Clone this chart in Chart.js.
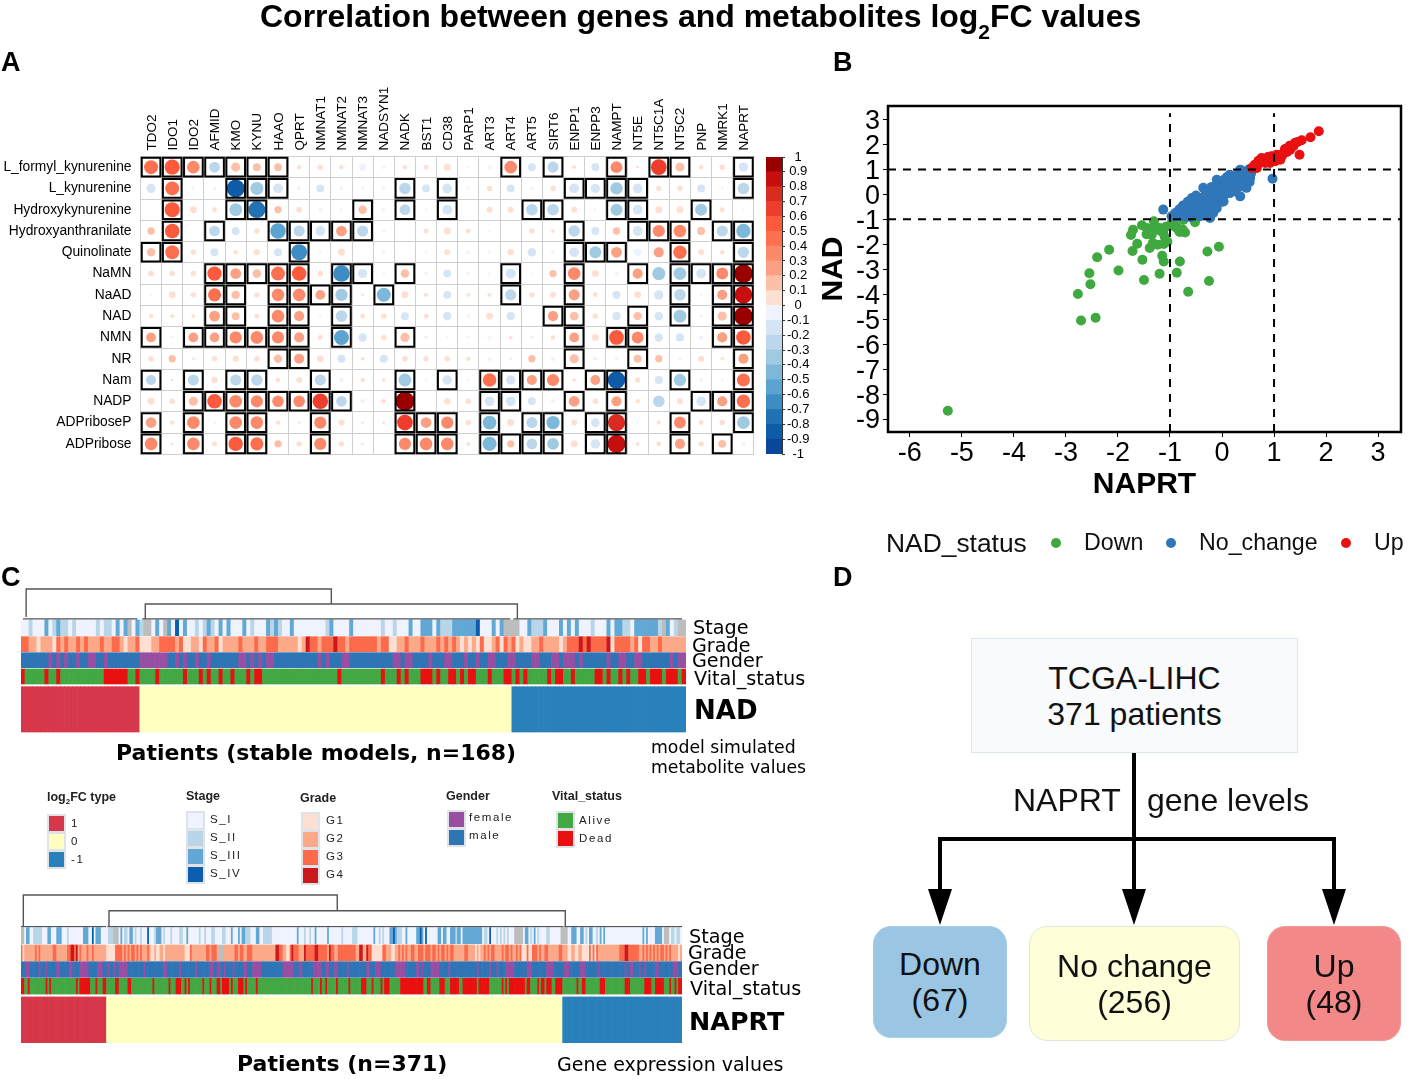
<!DOCTYPE html>
<html><head><meta charset="utf-8">
<script src="https://cdn.jsdelivr.net/npm/chart.js@4"></script>
<style>
html,body{margin:0;padding:0;background:#fff}
#page{position:relative;width:1417px;height:1079px;overflow:hidden;background:#fff;font-family:"Liberation Sans",sans-serif;color:#000}
canvas{position:absolute;display:block}
.t{position:absolute;white-space:nowrap;transform:translateY(-50%);line-height:1}
.dj{font-family:"DejaVu Sans",sans-serif}
.sw{position:absolute;width:17px;height:17px;box-sizing:border-box;border:2px solid #dfe3e8}
.box{position:absolute;box-sizing:border-box;display:flex;align-items:center;justify-content:center;text-align:center;font-family:"Liberation Sans",sans-serif;color:#111}
</style></head><body><div id="page">
<canvas id="cA" width="760" height="380" style="left:0;top:80px"></canvas>
<canvas id="cBar" width="60" height="330" style="left:760px;top:140px"></canvas>
<canvas id="cB" width="600" height="410" style="left:810px;top:95px"></canvas>
<canvas id="cC1" width="665" height="147" style="left:21px;top:586px"></canvas>
<canvas id="cC2" width="661" height="152" style="left:21px;top:892px"></canvas>
<svg width="1417" height="1079" style="position:absolute;left:0;top:0;pointer-events:none">
<g stroke="#000" stroke-width="4" fill="none">
<path d="M1134 753V895"/><path d="M940 895V839H1334V895"/>
</g>
<g fill="#000"><path d="M928 889H952L940 925Z"/><path d="M1122 889H1146L1134 925Z"/><path d="M1322 889H1346L1334 925Z"/></g>
</svg>
<div id="txt"></div>
</div>
<script>
// ---------- Panel A: correlation matrix ----------
const genes = ["TDO2","IDO1","IDO2","AFMID","KMO","KYNU","HAAO","QPRT","NMNAT1","NMNAT2","NMNAT3","NADSYN1","NADK","BST1","CD38","PARP1","ART3","ART4","ART5","SIRT6","ENPP1","ENPP3","NAMPT","NT5E","NT5C1A","NT5C2","PNP","NMRK1","NAPRT"];
const metabolites = ["L_formyl_kynurenine","L_kynurenine","Hydroxykynurenine","Hydroxyanthranilate","Quinolinate","NaMN","NaAD","NAD","NMN","NR","Nam","NADP","ADPriboseP","ADPribose"];
const corrL_formyl = [.47,.57,.37,-.25,.17,.12,.12,.03,.05,.03,-.1,-.02,.03,.04,.09,-.01,-.02,.37,-.12,-.27,.02,-.12,.32,.01,.62,.17,.03,.05,-.18];
const corrL_kyn = [-.17,.47,-.01,-.02,-.85,-.4,-.2,-.02,-.12,-.02,-.01,-.02,-.3,-.12,-.2,-.01,.05,-.12,-.02,.05,-.2,-.18,-.35,-.2,.05,.05,-.12,-.01,-.3];
const corrHydroxyK = [0,.57,.09,.04,-.38,-.75,.1,.06,-.02,-.01,.14,-.02,-.25,-.01,-.2,0,.06,.06,-.3,-.3,.06,-.01,-.33,-.2,.09,.09,-.33,.04,-.01];
const corrHydroxyA = [.1,.52,0,-.25,-.12,.05,-.6,-.28,-.2,.25,-.28,-.02,0,.04,.09,.04,-.01,0,.05,.02,-.3,-.12,.1,-.2,.34,.37,.12,-.28,-.5];
const corrQuin = [.14,.47,.05,-.12,.03,.07,-.13,-.65,-.01,.09,0,-.02,0,-.01,.06,-.02,-.01,.08,-.15,-.02,-.2,-.32,.25,-.1,.22,.42,.06,.03,-.28];
const corrNaMN = [.06,.05,.05,.5,.25,.15,.47,.52,.05,-.7,-.18,-.01,.14,-.02,-.12,-.02,-.01,-.2,-.01,.1,.37,.09,-.03,.22,-.4,-.38,-.2,.32,.92];
const corrNaAD = [-.01,.09,.05,.4,.14,.05,.37,.37,.2,-.35,.01,-.48,.09,.03,-.12,.02,.02,-.28,.05,.06,.27,.04,-.14,.09,-.18,-.3,-.01,.22,.82];
const corrNAD = [.03,.02,.02,.25,.12,.04,.37,.22,-.01,-.3,.04,.05,-.12,.04,-.14,-.02,.09,-.13,0,.22,.15,.05,-.13,.14,-.15,-.38,-.01,.17,.95];
const corrNMN = [.2,-.01,.2,.2,.34,.37,.34,.22,.04,-.55,-.14,.05,.17,-.02,-.01,-.01,-.03,.02,-.02,.03,.2,.09,.54,.32,-.14,-.13,-.03,.22,.52];
const corrNR = [.05,.1,.01,.05,.07,.05,.14,.22,.08,-.12,.02,-.13,.05,.05,.05,.03,-.03,-.02,.1,-.03,.17,.01,-.02,.12,.1,-.02,.06,.02,.22];
const corrNam = [-.22,.01,-.27,.07,-.28,-.3,.03,.06,-.28,-.03,.03,.02,-.38,-.01,-.18,-.01,.44,-.18,.22,.34,.02,.2,-.8,.05,-.13,-.35,-.02,-.01,.4];
const corrNADP = [.09,.05,.17,.52,.37,.34,.3,.3,.6,-.25,-.03,.03,.98,0,.07,.05,-.2,-.2,-.12,-.03,.25,.05,.22,.03,-.3,.06,-.2,.22,.42];
const corrADPRP = [.25,.03,.37,-.01,.37,.37,.03,.01,.34,.07,.01,.01,.62,.25,.34,.05,-.45,.09,-.27,-.42,.06,-.15,.77,-.01,.03,.32,.04,.05,-.38];
const corrADPR = [.37,.01,.37,.04,.5,.4,.1,.05,.34,.05,.01,0,.34,.37,.37,.02,-.48,.1,-.25,-.32,.09,-.18,.88,.02,.04,.22,.05,.12,-.03];
const corrRows = [corrL_formyl,corrL_kyn,corrHydroxyK,corrHydroxyA,corrQuin,corrNaMN,corrNaAD,corrNAD,corrNMN,corrNR,corrNam,corrNADP,corrADPRP,corrADPR];
const sigRows = [
 [0,1,2,3,4,5,6,17,19,22,24,25,28],[1,4,5,6,12,14,20,21,22,23,28],[1,4,5,10,12,14,18,19,22,23,26],
 [1,3,6,7,8,9,10,20,23,24,25,27,28],[0,1,7,20,21,22,25,28],[3,4,5,6,7,9,10,12,17,20,23,25,26,27,28],
 [3,4,6,7,8,9,11,17,20,25,27,28],[3,4,6,7,9,19,20,23,25,27,28],[0,2,3,4,5,6,7,9,12,20,22,23,27,28],
 [6,7,20,23,28],[0,2,4,5,8,12,14,16,17,18,19,21,22,25,28],[2,3,4,5,6,7,8,9,12,16,17,20,22,26,27,28],
 [0,2,4,5,8,12,13,14,16,18,19,21,22,25,28],[0,2,4,5,8,12,13,14,16,17,18,19,21,22,25,27]];
const binColors = ["#08479a","#0e5ca8","#2171b5","#3d8dc4","#5ba3d0","#7db8da","#9fcae1","#bcd6ec","#d5e5f5","#eff3ff","#fee0d2","#fcc0a8","#fca083","#fc8a6a","#fc7050","#fb5a3c","#ee3e2b","#d92b20","#c70e0e","#9b0000"];
const colorEdges = [-1,-.9,-.8,-.7,-.6,-.5,-.4,-.3,-.2,-.1,0,.1,.2,.3,.4,.5,.6,.7,.8,.9,1];

// ---------- Panel B: scatter ----------
const bDown = [[-5.27,-8.67],[-2.77,-3.99],[-2.71,-5.05],[-2.43,-4.94],[-2.53,-3.6],[-2.55,-3.16],[-2.4,-2.52],[-2.17,-2.22],[-1.99,-3.05],[-1.72,-2.27],[-1.63,-1.98],[-1.75,-1.63],[-1.71,-1.42],[-1.54,-1.24],[-1.53,-2.62],[-1.5,-3.43],[-1.39,-2.15],[-1.4,-1.42],[-1.31,-1.08],[-1.29,-1.28],[-1.35,-1.62],[-1.24,-2.02],[-1.2,-3.18],[-1.15,-2.46],[-1.12,-2.69],[-1.12,-1.99],[-1.16,-1.49],[-1.1,-1.71],[-.97,-1.15],[-.88,-1.28],[-.87,-3.14],[-.81,-2.69],[-.82,-1.49],[-.71,-1.53],[-.74,-1.02],[-.65,-3.9],[-.52,-1.12],[-.28,-2.29],[-.06,-2.1],[-.25,-3.47],[-1.45,-1.35],[-1.26,-1.42],[-1.13,-1.55],[-.87,-1.35],[-.94,-1.26],[-.81,-1.51],[-1.05,-1.9],[-1.33,-1.95],[-1.2,-1.35],[-.76,-1.4],[-1.08,-1.3],[-1.45,-1.6]];
const bNoChange = [[-1.13,-.61],[.97,.63],[-.97,-.88],[-.9,-.75],[-.85,-.9],[-.82,-.6],[-.78,-.8],[-.75,-.45],[-.72,-.65],[-.7,-.9],[-.66,-.3],[-.64,-.55],[-.62,-.75],[-.6,-.92],[-.58,-.15],[-.56,-.4],[-.54,-.6],[-.52,-.8],[-.5,-.05],[-.48,-.3],[-.46,-.5],[-.44,-.7],[-.42,-.88],[-.4,-.15],[-.38,-.4],[-.36,.26],[-.34,-.6],[-.32,-.8],[-.3,.05],[-.28,-.2],[-.26,-.45],[-.24,-.65],[-.23,-.95],[-.2,.3],[-.18,.1],[-.17,-.75],[-.15,-.15],[-.13,-.4],[-.1,.59],[-.1,-.55],[-.08,.35],[-.05,.1],[-.03,-.1],[0,-.3],[.02,.5],[.03,-.28],[.05,.25],[.07,.02],[.1,.7],[.12,.45],[.15,.79],[.15,.05],[.18,.25],[.2,.6],[.22,.4],[.25,.12],[.27,.75],[.3,.5],[.32,.3],[.35,.99],[.35,-.08],[.37,.8],[.4,.55],[.42,.35],[.45,.9],[.47,.26],[.5,.7],[.51,.99],[.53,.5],[.54,.66],[.56,.85],[-.7,-.7],[-.6,-.5],[-.5,-.65],[-.42,-.3],[-.3,-.3],[-.22,-.1],[-.12,.2],[-.02,.3],[.08,.3],[.18,.5],[.28,.6],[.38,.65],[.46,.6],[-.88,-.85],[-.76,-.6],[-.68,-.45],[-.55,-.25],[-.35,-.1],[-.25,.15],[.05,.6],[.22,.7],[.32,.85]];
const bUp = [[1.86,2.53],[1.7,2.29],[1.53,2.17],[1.4,2.06],[1.37,1.93],[1.49,1.59],[1.21,1.82],[1.18,1.66],[1.15,1.53],[1.05,1.59],[.95,1.53],[.92,1.26],[.86,1.39],[.76,1.46],[.73,1.26],[.63,1.19],[.57,1.06],[.67,1.06],[1.02,1.33],[1.12,1.39],[1.31,1.79],[.83,1.26],[.98,1.45],[1.3,1.95],[.7,1.35],[1.25,1.7],[1.45,2.1],[.88,1.5]];
const thresholds = [-1,1];
const bXTicks = [-6,-5,-4,-3,-2,-1,0,1,2,3];
const bYTicks = [3,2,1,0,-1,-2,-3,-4,-5,-6,-7,-8,-9];

// ---------- Panel C: annotated heatmaps (run lengths) ----------
const stageColors = ["#eff3ff","#b9d6e8","#62a8d6","#0b5dae","#bdbdbd"];
const gradeColors = ["#fee0d2","#fca98a","#fb6a4a","#cb181d","#bdbdbd"];
const genderColors = ["#2f75b5","#984ea3"];
const vitalColors = ["#e91010","#43a843"];
const clusterColors = ["#d7374a","#ffffbf","#2a80ba"];
const nadPatients = 168, naprtPatients = 371;
const nadClusters = [30,94,44], naprtClusters = [48,256,67];
const nadVital = [1,5,1,2,1,11,6,2,1,4,1,6,1,3,1,1,1,2,1,2,1,3,1,1,2,19,1,10,1,3,1,1,1,3,3,1,1,2,2,1,1,1,2,3,1,3,2,1,1,1,1,5,1,1,2,2,1,5,2,1,1,2,1,1,1,2,2,1,3,1,3,1,1];
const nadGender = [7,1,1,1,1,1,2,1,2,2,2,1,8,7,2,1,1,1,2,1,2,1,7,2,1,1,1,1,1,2,11,1,1,1,3,2,11,2,1,2,4,1,3,2,3,1,2,1,2,2,3,2,4,2,3,2,1,3,1,1,6,1,2,2,2,2,7,1,1,2];
const nadStage = [0,2,1,1,0,3,2,1,0,1,1,1,2,1,1,2,0,1,1,1,0,5,1,1,0,1,1,2,0,1,2,1,0,1,2,1,4,1,0,1,2,1,1,1,4,2,0,1,2,1,0,1,4,1,2,1,0,1,3,1,0,1,2,1,0,2,1,1,0,1,1,1,2,1,1,1,0,1,2,1,0,1,2,1,0,3,2,1,0,1,1,1,0,3,2,1,1,1,2,1,1,1,0,2,2,1,0,8,1,1,2,1,0,4,2,1,0,7,1,1,0,2,1,1,0,3,
 2,1,0,2,2,3,0,1,2,1,1,3,2,6,3,1,0,3,2,1,0,1,2,1,4,2,4,2,0,2,2,1,1,3,2,1,0,3,2,1,0,1,2,1,0,1,2,1,0,3,1,1,0,3,2,1,0,1,2,2,1,2,0,1,2,6,1,1,4,1,2,1,0,1,1,1,4,2];
const nadGrade = [2,2,1,2,0,1,1,3,0,1,2,1,1,1,2,1,1,2,2,1,1,1,2,1,1,3,2,1,1,2,2,2,1,1,0,1,1,2,2,1,0,3,1,2,2,4,1,1,2,1,0,1,0,1,1,2,0,1,2,1,1,2,2,1,0,1,1,4,2,1,1,3,2,1,1,2,2,3,1,5,0,1,1,1,3,1,2,2,1,1,2,3,3,1,2,2,1,1,2,7,1,1,2,2,0,2,1,2,2,1,
 1,3,2,1,1,3,2,1,1,1,2,1,1,1,2,1,1,1,0,1,1,1,0,1,1,1,0,1,2,1,0,2,1,1,2,1,0,1,2,1,1,1,2,1,0,1,1,1,0,2,1,2,2,1,1,4,0,1,1,1,2,3,3,1,2,1,3,1,2,4,3,1,0,1,2,4,1,1,2,1,0,1,2,2,1,2,2,1,1,6,4,1];
const naprtVital = [2,2,1,9,1,1,1,14,1,1,6,3,1,3,2,5,2,5,2,12,1,8,1,3,3,2,1,1,1,7,1,3,1,3,2,1,4,1,1,3,3,1,1,5,1,30,1,4,1,2,1,5,1,6,1,6,3,3,1,4,1,1,3,6,13,2,2,5,3,3,5,2,8,1,6,7,1,1,1,1,9,1,2,4,1,1,2,1,3,2,4,8,1,2,2,8,3,11,3,8,4,2,5,3,1,2,1,1,2];
const naprtGender = [3,2,5,1,3,1,5,2,5,2,4,5,5,3,3,1,2,1,2,5,9,1,10,2,7,1,8,1,7,2,2,2,2,1,4,1,5,2,3,5,12,6,3,2,6,5,2,2,3,2,5,1,10,2,3,3,8,6,6,2,1,1,4,5,5,1,15,1,6,1,3,1,4,5,7,3,8,4,6,3,6,3,7,1,14,1,2,2,3,1,2,1,5,2,8,3,2];
const naprtStage = [4,2,0,1,2,2,0,2,1,5,0,3,2,2,0,3,2,3,0,3,1,1,0,8,2,3,0,2,3,1,0,1,2,3,0,4,1,3,4,3,0,1,2,1,0,1,1,2,0,1,2,2,0,1,1,1,0,2,1,1,0,3,3,1,0,3,1,1,2,3,0,1,1,1,0,3,1,1,0,4,1,2,0,2,2,1,0,6,1,1,0,2,1,1,0,3,1,2,0,4,1,2,0,3,2,1,0,3,2,1,0,1,2,2,1,3,0,3,2,2,0,2,1,5,0,14,2,1,0,3,1,1,0,2,1,1,0,2,2,1,0,6,2,1,0,7,1,1,0,5,1,3,0,9,2,1,0,2,1,1,0,1,1,1,0,3,2,2,3,1,2,1,1,3,
 0,2,2,1,0,5,2,2,3,1,2,1,0,1,3,1,0,6,2,2,0,1,2,2,0,2,2,3,1,1,2,2,0,1,2,11,0,1,1,2,0,1,3,1,0,3,1,1,0,1,1,1,0,1,1,1,0,1,1,1,0,3,4,5,0,1,2,2,0,1,1,1,0,1,2,1,0,1,1,1,0,4,1,2,0,6,4,4,0,2,2,3,0,2,2,2,0,1,1,1,0,1,2,2,0,2,1,1,0,1,2,1,0,1,2,1,0,2,0,19,2,1,0,1,2,1,0,4,2,4,0,1,4,3,0,1,1,2,0,1,1,2,0,1];
const naprtGrade = [2,1,0,1,1,6,2,1,1,1,2,1,1,7,2,2,1,6,2,2,3,2,2,1,3,1,1,1,2,1,1,3,2,1,1,2,2,1,1,7,0,5,2,4,1,1,2,1,1,1,2,1,1,1,2,2,1,1,2,1,1,1,2,1,1,3,2,1,1,1,0,2,1,1,0,2,1,2,0,1,1,7,1,4,0,3,2,1,1,8,2,2,1,1,2,3,1,1,4,3,1,4,1,2,2,2,1,1,2,2,1,2,2,3,1,1,1,7,1,5,3,2,2,2,1,2,0,2,2,1,3,1,2,3,1,3,3,1,2,3,2,2,3,2,2,5,1,1,3,1,2,2,1,2,2,10,1,2,3,2,1,2,3,1,2,2,0,6,2,2,1,3,0,2,1,2,
 2,1,1,1,2,1,1,1,2,1,1,2,2,2,1,2,2,3,1,1,2,3,1,1,2,2,1,1,2,1,1,1,2,2,1,1,2,1,1,1,2,2,1,6,2,2,1,4,0,1,1,1,0,1,1,2,2,1,1,1,2,1,1,1,2,2,1,4,2,1,1,1,2,2,1,1,2,1,1,2,2,1,1,1,2,1,0,3,2,1,0,2,2,3,1,1,2,1,1,2,2,2,1,6,2,2,1,3,0,2,1,2,0,2,1,2,0,4,2,1,0,1,2,1,0,1,2,1,1,12,2,3,3,2,2,6,1,2,2,1,1,1,2,1,1,1,2,1,1,1,2,1,1,1,2,1,1,1,2,2,1,1,2,1,1,1,2,1,1,1,1,3,0,1,1,4];
const nadDendro = [[[1.3,31],[1.3,3],[78.4,3],[78.4,18]],[[31.4,33],[31.4,18],[125.4,18],[125.4,33]],[[.5,33],[29.4,33]],[[30.6,33],[123.6,33]],[[124.4,33],[167,33]]];
const naprtDendro = [[[1.3,34.7],[1.3,3],[177.5,3],[177.5,18.7]],[[49.4,34.7],[49.4,18.7],[305.5,18.7],[305.5,34.7]],[[0,34.7],[47.7,34.7]],[[48.4,34.7],[304.5,34.7]],[[305,34.7],[371,34.7]]];
const nadBands = [[34,49.7],[50.7,65.7],[66.7,81.7],[83,98],[100.7,146]];
const naprtBands = [[35.7,51.7],[53,68.7],[69.7,85.3],[86.3,102],[105,150.7]];

// ---------- Panel D: cohort counts ----------
const cohortTotal = 371;
const cohortLabels = ["Down","No change","Up"];
const cohortCounts = [67,256,48];

const common = {responsive:false,animation:false,events:[],plugins:{legend:{display:false},tooltip:{enabled:false}}};
const SANS = "'Liberation Sans', sans-serif";
const noSidePadX = s=>{s.paddingLeft=0;s.paddingRight=0};
const noSidePadY = s=>{s.paddingTop=0;s.paddingBottom=0};

function binColor(v){let i=Math.floor((v+1)*10);if(v===0)i=10;return binColors[Math.max(0,Math.min(19,i))]}

// Panel A chart
const bubbles=[],boxes=[];
metabolites.forEach((m,r)=>{
  corrRows[r].forEach((v,c)=>bubbles.push({x:genes[c],y:m,r:9.6*Math.pow(Math.abs(v),.42),v}));
  sigRows[r].forEach(c=>boxes.push({x:genes[c],y:m,r:13.2}));
});
new Chart(document.getElementById('cA'),{type:'bubble',
 data:{datasets:[
  {data:boxes,radius:0,pointStyle:'rect',backgroundColor:'rgba(0,0,0,0)',borderColor:'#000',borderWidth:2,order:0},
  {data:bubbles,radius:0,borderWidth:0,backgroundColor:c=>c.raw?binColor(c.raw.v):'#fff',order:1}]},
 options:{...common,layout:{autoPadding:false,padding:{right:6,bottom:5.5}},
  scales:{
   x:{type:'category',labels:genes,position:'top',offset:true,afterFit:s=>{s.height=76.5;noSidePadX(s)},
      grid:{offset:true,color:'#cfcfcf',lineWidth:1,drawTicks:false},border:{color:'#cfcfcf'},
      ticks:{autoSkip:false,minRotation:90,maxRotation:90,padding:6,labelOffset:17,color:'#000',font:{family:SANS,size:13.5}}},
   y:{type:'category',labels:metabolites,position:'left',offset:true,afterFit:s=>{s.width=140.5;noSidePadY(s)},
      grid:{offset:true,color:'#cfcfcf',lineWidth:1,drawTicks:false},border:{color:'#cfcfcf'},
      ticks:{autoSkip:false,padding:9,color:'#000',font:{family:SANS,size:13.8}}}
  }}});

// Colour bar
new Chart(document.getElementById('cBar'),{type:'bar',
 data:{labels:['r'],datasets:binColors.map((col,i)=>({data:[[colorEdges[i],colorEdges[i+1]]],backgroundColor:col,barPercentage:1,categoryPercentage:1,grouped:false,borderWidth:0}))},
 options:{...common,layout:{autoPadding:false,padding:{left:6,top:17,bottom:16}},
  scales:{x:{display:false},
   y:{position:'right',min:-1,max:1,afterFit:s=>{s.width=38;noSidePadY(s)},
      afterBuildTicks:s=>{s.ticks=colorEdges.map(v=>({value:v}))},
      grid:{display:true,drawOnChartArea:false,tickLength:3,color:'#333'},border:{color:'#333'},
      ticks:{autoSkip:false,padding:2,crossAlign:'center',color:'#000',font:{family:SANS,size:13},callback:v=>String(+(+v).toFixed(1))}}}}});

// Panel B chart
const bPts=a=>a.map(p=>({x:p[0],y:p[1]}));
const dashed={type:'line',borderColor:'#000',borderWidth:2,borderDash:[8,7],pointRadius:0,order:0,fill:false};
const xLim=[-6.42,3.44],yLim=[-9.52,3.54];
const frame={id:'frame',afterDraw(c){const a=c.chartArea,x=c.ctx;x.save();x.strokeStyle='#000';x.lineWidth=2.5;x.strokeRect(a.left,a.top,a.width,a.height);x.restore()}};
new Chart(document.getElementById('cB'),{type:'scatter',
 data:{datasets:[
  ...thresholds.map(t=>({...dashed,data:[{x:xLim[0],y:t},{x:xLim[1],y:t}]})),
  ...thresholds.map(t=>({...dashed,data:[{x:t,y:yLim[0]},{x:t,y:3.25}]})),
  {data:bPts(bUp),backgroundColor:'#e81010',pointRadius:5,borderWidth:0,order:1},
  {data:bPts(bNoChange),backgroundColor:'#2f77b8',pointRadius:5,borderWidth:0,order:2},
  {data:bPts(bDown),backgroundColor:'#3fa93f',pointRadius:5,borderWidth:0,order:3}]},
 plugins:[frame],
 options:{...common,layout:{autoPadding:false,padding:{top:11,right:9}},
  scales:{
   x:{type:'linear',min:xLim[0],max:xLim[1],afterFit:s=>{s.height=73;noSidePadX(s)},
      afterBuildTicks:s=>{s.ticks=bXTicks.map(v=>({value:v}))},
      grid:{display:true,drawOnChartArea:false,tickLength:5,color:'#000'},border:{color:'#000',width:2},
      title:{display:true,text:'NAPRT',color:'#000',font:{family:SANS,size:30,weight:'bold'},padding:{top:0,bottom:2}},
      ticks:{autoSkip:false,maxRotation:0,padding:0,color:'#000',font:{family:SANS,size:27},callback:v=>String(v)}},
   y:{type:'linear',min:yLim[0],max:yLim[1],afterFit:s=>{s.width=78;noSidePadY(s)},
      afterBuildTicks:s=>{s.ticks=bYTicks.map(v=>({value:v}))},
      grid:{display:true,drawOnChartArea:false,tickLength:5,color:'#000'},border:{color:'#000',width:2},
      title:{display:true,text:'NAD',color:'#000',font:{family:SANS,size:30,weight:'bold'},padding:{top:6,bottom:0}},
      ticks:{autoSkip:false,padding:3,labelOffset:2,color:'#000',font:{family:SANS,size:27},callback:v=>String(v)}}
  }}});

// Panel C charts
function alt(runs,n){const o=[];runs.forEach((len,i)=>{for(let k=0;k<len;k++)o.push(i%2)});while(o.length<n)o.push(o[o.length-1]);return o.slice(0,n)}
function pairs(flat,n){const o=[];for(let i=0;i<flat.length;i+=2){for(let k=0;k<flat[i+1];k++)o.push(flat[i])}while(o.length<n)o.push(0);return o.slice(0,n)}
function heat(id,n,clusters,stage,grade,gender,vital,bands,dendro,h){
  const labels=[];for(let i=0;i<n;i++)labels.push('P'+(i+1));
  const cl=[];clusters.forEach((c,i)=>{for(let k=0;k<c;k++)cl.push(i)});
  const tracks=[[pairs(stage,n),stageColors],[pairs(grade,n),gradeColors],[alt(gender,n),genderColors],[alt(vital,n),vitalColors],[cl,clusterColors]];
  const sets=tracks.map((t,j)=>({type:'bar',xAxisID:'x',yAxisID:'y',grouped:false,barPercentage:1,categoryPercentage:1,borderWidth:0,
     data:t[0].map(()=>bands[j]),backgroundColor:t[0].map(c=>t[1][c])}));
  dendro.forEach(l=>sets.push({type:'line',xAxisID:'xd',yAxisID:'y',data:l.map(p=>({x:p[0],y:p[1]})),borderColor:'#555',borderWidth:1.4,pointRadius:0,fill:false}));
  new Chart(document.getElementById(id),{data:{labels,datasets:sets},
   options:{...common,scales:{
     x:{type:'category',display:false},
     xd:{type:'linear',display:false,min:0,max:n},
     y:{type:'linear',display:false,reverse:true,min:0,max:h}}}});
}
heat('cC1',nadPatients,nadClusters,nadStage,nadGrade,nadGender,nadVital,nadBands,nadDendro,147);
heat('cC2',naprtPatients,naprtClusters,naprtStage,naprtGrade,naprtGender,naprtVital,naprtBands,naprtDendro,152);

// Text and legends
const T=document.getElementById('txt');
function t(s,x,y,css,cls){const d=document.createElement('div');d.className='t '+(cls||'');d.innerHTML=s;d.style.cssText='left:'+x+'px;top:'+y+'px;'+(css||'');T.appendChild(d);return d}
function sw(x,y,c){const d=document.createElement('div');d.className='sw';d.style.cssText='left:'+x+'px;top:'+y+'px;width:19px;height:19px;background:'+c;T.appendChild(d)}
function bx(x,y,w,h,bg,bd,r,fs,html){const d=document.createElement('div');d.className='box';d.style.cssText=`left:${x}px;top:${y}px;width:${w}px;height:${h}px;background:${bg};border:1.5px solid ${bd};border-radius:${r}px;font-size:${fs}px;line-height:36px`;d.innerHTML=html;T.appendChild(d)}
t('Correlation between genes and metabolites log<sub style="font-size:21px;line-height:0;vertical-align:-12px">2</sub>FC values',260,16,'font-weight:bold;font-size:32px');
[['A',1,62],['B',833,62],['C',1,577],['D',833,577]].forEach(a=>t(a[0],a[1],a[2],'font-weight:bold;font-size:27px'));
// B legend
const F25='font-size:23.2px;color:#111';
t('NAD_status',886,543,'font-size:26.4px;color:#111');t('Down',1084,543,F25);t('No_change',1199,543,F25);t('Up',1374,543,F25);
[[1056,'#3fa93f'],[1171,'#2f77b8'],[1346,'#e81010']].forEach(a=>{const d=document.createElement('div');d.style.cssText=`position:absolute;left:${a[0]-5}px;top:538px;width:10px;height:10px;border-radius:50%;background:${a[1]}`;T.appendChild(d)});
// C labels
const L='font-size:19.2px';
t('Stage',693,628,L,'dj');t('Grade',692,646,L,'dj');t('Gender',692,661,L,'dj');t('Vital_status',694,679,L,'dj');
t('NAD',694,710,'font-size:26px;font-weight:bold','dj');
t('Patients (stable models, n=168)',116,753,'font-size:22px;font-weight:bold','dj');
t('model simulated',651,748,'font-size:17.3px','dj');t('metabolite values',651,768,'font-size:17.3px','dj');
t('Stage',689,937,L,'dj');t('Grade',688,953,L,'dj');t('Gender',688,969,L,'dj');t('Vital_status',690,989,L,'dj');
t('NAPRT',689,1022,'font-size:25.4px;font-weight:bold','dj');
t('Patients (n=371)',237,1064,'font-size:22px;font-weight:bold','dj');
t('Gene expression values',557,1064,'font-size:19px','dj');
// C legends
const H='font-weight:bold;font-size:12.5px;color:#222';
const S='font-size:11.5px;letter-spacing:1.6px;color:#222';
t('log<sub style="font-size:8px;line-height:0">2</sub>FC type',47,797,H);
clusterColors.forEach((c,i)=>sw(47,814+i*18,c));
['1','0','-1'].forEach((s,i)=>t(s,71,824+i*18,S));
t('Stage',186,796,H);stageColors.slice(0,4).forEach((c,i)=>sw(186,811+i*18,c));
['S_I','S_II','S_III','S_IV'].forEach((s,i)=>t(s,210,820+i*18,S));
t('Grade',300,798,H);gradeColors.slice(0,4).forEach((c,i)=>sw(301,812+i*18,c));
['G1','G2','G3','G4'].forEach((s,i)=>t(s,326,821+i*18,S));
t('Gender',446,796,H);[genderColors[1],genderColors[0]].forEach((c,i)=>sw(447,810+i*18,c));
['female','male'].forEach((s,i)=>t(s,469,818+i*18,S));
t('Vital_status',552,796,H);[vitalColors[1],vitalColors[0]].forEach((c,i)=>sw(556,811+i*18,c));
['Alive','Dead'].forEach((s,i)=>t(s,579,821+i*18,S));
// D
bx(971,638,327,115,'#f8fafb','#dbe7ea',0,32,'TCGA-LIHC<br>'+cohortTotal+' patients');
t('NAPRT',1013,800,'font-size:32px;color:#111');
t('gene levels',1147,800,'font-size:32px;color:#111');
bx(873,926,134,112,'#9ac5e3','#a9cde6',18,32,cohortLabels[0]+'<br>('+cohortCounts[0]+')');
bx(1029,926,211,115,'#feffd9','#dfe8d8',18,32,cohortLabels[1]+'<br>('+cohortCounts[1]+')');
bx(1267,926,134,115,'#f28888','#f09a9a',18,32,cohortLabels[2]+'<br>('+cohortCounts[2]+')');
</script>
</body></html>
